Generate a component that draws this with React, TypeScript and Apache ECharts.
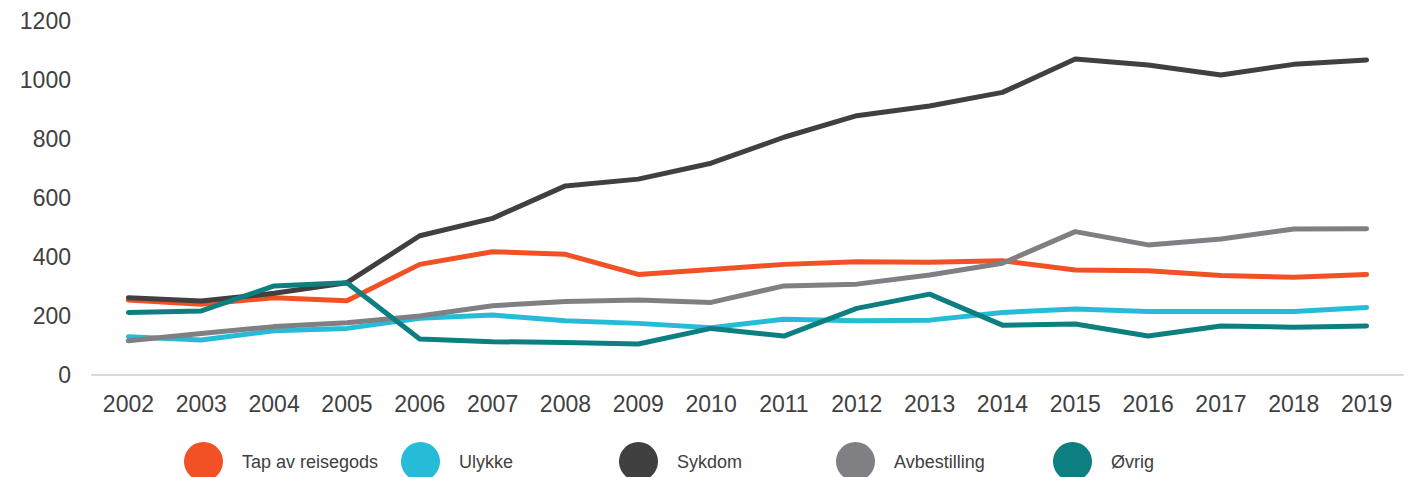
import React, { useEffect, useRef } from "react";
import * as echarts from "echarts";

const years = ["2002","2003","2004","2005","2006","2007","2008","2009","2010","2011","2012","2013","2014","2015","2016","2017","2018","2019"];
const tapAvReisegods = [254, 240, 262, 252, 375, 418, 409, 341, 358, 375, 384, 382, 387, 356, 353, 337, 331, 341];
const ulykke = [130, 119, 150, 158, 192, 203, 184, 175, 160, 189, 184, 186, 212, 224, 215, 215, 215, 229];
const sykdom = [262, 251, 277, 313, 472, 531, 641, 664, 718, 806, 879, 912, 958, 1071, 1051, 1017, 1053, 1068];
const avbestilling = [116, 141, 164, 177, 200, 235, 249, 254, 246, 302, 308, 339, 379, 486, 441, 461, 495, 496];
const ovrig = [212, 217, 302, 313, 122, 113, 110, 105, 158, 132, 226, 274, 169, 173, 132, 166, 162, 166];

const seriesNames = ["Tap av reisegods", "Ulykke", "Sykdom", "Avbestilling", "Øvrig"];
const seriesData = [tapAvReisegods, ulykke, sykdom, avbestilling, ovrig];
const colors = ["#F15125", "#26BCD7", "#404040", "#808084", "#0D7F80"];
const legendLeft = [184, 401, 619, 836, 1053];

export default function App() {
  const ref = useRef<HTMLDivElement>(null);
  useEffect(() => {
    document.body.style.margin = "0";
    if (!ref.current) return;
    const chart = echarts.init(ref.current, undefined, { renderer: "svg" });
    chart.setOption({
      animation: false,
      backgroundColor: "#ffffff",
      grid: { left: 92, right: 9, top: 21, bottom: 102, containLabel: false },
      legend: seriesNames.map((n, i) => ({
        data: [n],
        left: legendLeft[i],
        top: 442,
        padding: 0,
        icon: "circle",
        itemWidth: 39,
        itemHeight: 39,
        selectedMode: false,
        textStyle: {
          color: "#404040",
          fontSize: 18,
          fontFamily: "Liberation Sans, Arial, sans-serif",
          padding: [0, 0, 0, 14],
        },
      })),
      xAxis: {
        type: "category",
        data: years,
        boundaryGap: true,
        axisLine: { show: true, lineStyle: { color: "#D9D9D9", width: 2 } },
        axisTick: { show: false },
        axisLabel: {
          color: "#404040",
          fontSize: 23,
          fontFamily: "Liberation Sans, Arial, sans-serif",
          margin: 17,
          interval: 0,
        },
        splitLine: { show: false },
      },
      yAxis: {
        type: "value",
        min: 0,
        max: 1200,
        interval: 200,
        axisLine: { show: false },
        axisTick: { show: false },
        splitLine: { show: false },
        axisLabel: {
          color: "#404040",
          fontSize: 23,
          fontFamily: "Liberation Sans, Arial, sans-serif",
          margin: 21,
          formatter: (v: number) => String(v),
        },
      },
      series: seriesNames.map((n, i) => ({
        name: n,
        type: "line",
        data: seriesData[i],
        symbol: "none",
        color: colors[i],
        itemStyle: { color: colors[i] },
        lineStyle: { color: colors[i], width: 5, cap: "round", join: "round" },
      })),
    });
    return () => chart.dispose();
  }, []);
  return <div ref={ref} style={{ width: 1412, height: 477 }} />;
}
